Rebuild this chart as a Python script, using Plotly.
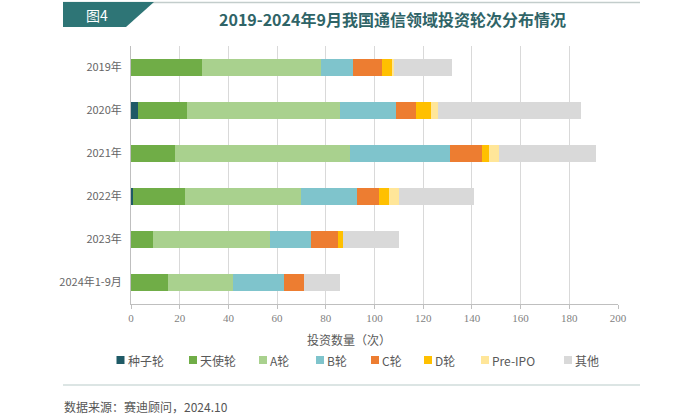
import plotly.graph_objects as go

# ---- data ----
years = ["2019年", "2020年", "2021年", "2022年", "2023年", "2024年1-9月"]
series_names = ["种子轮", "天使轮", "A轮", "B轮", "C轮", "D轮", "Pre-IPO", "其他"]
seed = [0, 3, 0, 1, 0, 0]
angel = [29, 20, 18, 21, 9, 15]
round_a = [49, 63, 72, 48, 48, 27]
round_b = [13, 23, 41, 23, 17, 21]
round_c = [12, 8, 13, 9, 11, 8]
round_d = [4, 6, 3, 4, 2, 0]
pre_ipo = [1, 3, 4, 4, 0, 0]
other = [24, 59, 40, 31, 23, 15]
x_ticks = [0, 20, 40, 60, 80, 100, 120, 140, 160, 180, 200]

series_values = [seed, angel, round_a, round_b, round_c, round_d, pre_ipo, other]
colors = ["#1f5a66", "#70ad47", "#a9d18e", "#7fc4cc", "#ed7d31", "#ffc000", "#ffe699", "#d9d9d9"]

W, H = 700, 415
L, R, T, B = 131, 82, 46, 111
pw = W - L - R
ph = H - T - B

def px_x(p):
    return (p - L) / pw

def px_y(p):
    return (H - B - p) / ph

fig = go.Figure()
for name, vals, col in zip(series_names, series_values, colors):
    fig.add_trace(go.Bar(
        y=years, x=vals, name=name, orientation="h",
        marker=dict(color=col, line=dict(width=0)),
        showlegend=False,
    ))

cjk = "Noto Sans CJK SC"

fig.update_layout(
    width=W, height=H,
    barmode="stack", bargap=0.6,
    margin=dict(l=L, r=R, t=T, b=B, autoexpand=False),
    paper_bgcolor="white", plot_bgcolor="white",
    font=dict(family=cjk, color="#595959"),
    xaxis=dict(
        range=[0, 200], tickvals=x_ticks, ticktext=[str(v) for v in x_ticks],
        showgrid=True, gridcolor="#d9d9d9", gridwidth=1,
        showline=True, linecolor="#bfbfbf", linewidth=1,
        ticks="outside", ticklen=4, tickcolor="#bfbfbf",
        tickfont=dict(family="Liberation Serif", size=11, color="#7f7f7f"),
        zeroline=False, fixedrange=True,
    ),
    yaxis=dict(
        categoryorder="array", categoryarray=years, autorange="reversed",
        showline=True, linecolor="#bfbfbf", linewidth=1,
        ticks="", ticklabelstandoff=6,
        tickfont=dict(family=cjk, size=11, color="#666666"),
        showgrid=False, fixedrange=True,
    ),
)

shapes = []
annotations = []

# header: top line, teal tag
shapes.append(dict(type="line", xref="paper", yref="paper",
                   x0=px_x(63), x1=px_x(640), y0=px_y(2.5), y1=px_y(2.5),
                   line=dict(color="#c3cdcc", width=1.5)))
shapes.append(dict(type="path", xref="paper", yref="paper",
                   path=f"M {px_x(63)},{px_y(2)} L {px_x(154)},{px_y(2)} L {px_x(126)},{px_y(27)} L {px_x(63)},{px_y(27)} Z",
                   fillcolor="#2e7576", line=dict(width=0)))
annotations.append(dict(text="图4", xref="paper", yref="paper", x=px_x(97), y=px_y(15),
                        showarrow=False, font=dict(family=cjk, size=14, color="white"),
                        xanchor="center", yanchor="middle"))
annotations.append(dict(text="<b>2019-2024年9月我国通信领域投资轮次分布情况</b>",
                        xref="paper", yref="paper", x=px_x(392), y=px_y(19),
                        showarrow=False, font=dict(family=cjk, size=16, color="#2f6467"),
                        xanchor="center", yanchor="middle"))

# axis title
annotations.append(dict(text="投资数量（次）", xref="paper", yref="paper", x=px_x(349), y=px_y(339),
                        showarrow=False, font=dict(family=cjk, size=12, color="#595959"),
                        xanchor="center", yanchor="middle"))

# legend (manual)
legend_x = [120.5, 193, 263, 320, 375, 428, 485, 568]
ly = 360
for name, col, cx in zip(series_names, colors, legend_x):
    shapes.append(dict(type="rect", xref="paper", yref="paper",
                       x0=px_x(cx - 4), x1=px_x(cx + 4), y0=px_y(ly - 4), y1=px_y(ly + 4),
                       fillcolor=col, line=dict(width=0)))
    annotations.append(dict(text=name, xref="paper", yref="paper", x=px_x(cx + 5), y=px_y(ly),
                            showarrow=False, font=dict(family=cjk, size=12, color="#595959"),
                            xanchor="left", yanchor="middle"))

# footer
shapes.append(dict(type="line", xref="paper", yref="paper",
                   x0=px_x(63), x1=px_x(640), y0=px_y(385), y1=px_y(385),
                   line=dict(color="#b9cbc9", width=1)))
annotations.append(dict(text="数据来源：赛迪顾问，2024.10", xref="paper", yref="paper",
                        x=px_x(62), y=px_y(406), showarrow=False,
                        font=dict(family=cjk, size=12, color="#555555"),
                        xanchor="left", yanchor="middle"))

fig.update_layout(shapes=shapes, annotations=annotations)
fig.write_html(
    "out.html",
    config={"displayModeBar": False},
    post_script="document.body.style.margin='0';document.body.style.overflow='hidden';",
)
